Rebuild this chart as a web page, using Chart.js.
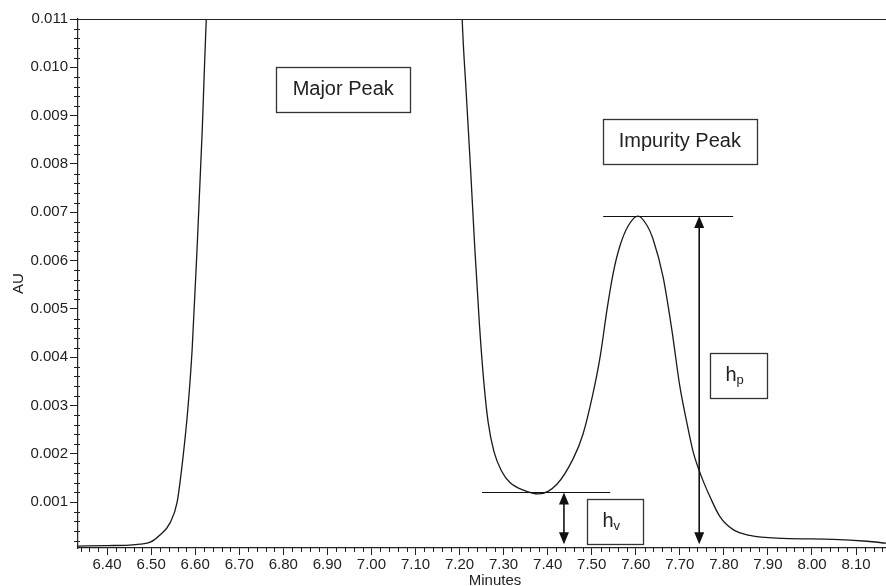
<!DOCTYPE html>
<html>
<head>
<meta charset="utf-8">
<script src="https://cdn.jsdelivr.net/npm/chart.js@4.4.1/dist/chart.umd.min.js"></script>
<style>
html,body{margin:0;padding:0;background:#fff;overflow:hidden;width:886px;height:586px}
#wrap{width:912px;height:586px;position:relative}
</style>
</head>
<body>
<div id="wrap"><canvas id="c"></canvas></div>
<script>
// ---- data ----
const timeMinutes = [
  6.334, 6.40, 6.45, 6.475, 6.498, 6.520, 6.543, 6.559, 6.572, 6.584, 6.593, 6.604, 6.616, 6.621, 6.626,
  6.645, 6.92, 7.19,
  7.206, 7.215, 7.225, 7.235, 7.245, 7.255, 7.265, 7.278, 7.295, 7.315, 7.345, 7.380, 7.421, 7.458,
  7.480, 7.503, 7.519, 7.535, 7.549, 7.564, 7.583, 7.605, 7.626, 7.639, 7.662, 7.682, 7.700, 7.716,
  7.730, 7.746, 7.769, 7.791, 7.821, 7.859, 7.934, 8.048, 8.125, 8.168
];
const absorbanceAU = [
  0.00009, 0.00010, 0.00011, 0.00013, 0.00017, 0.00032, 0.00057, 0.00100, 0.00190, 0.00300, 0.00415, 0.00620, 0.00870, 0.01000, 0.01120,
  0.01600, 0.05000, 0.01600,
  0.01100, 0.00950, 0.00790, 0.00620, 0.00470, 0.00350, 0.00265, 0.00205, 0.00165, 0.00140, 0.00125, 0.00117, 0.00137, 0.00190,
  0.00240, 0.00325, 0.00400, 0.00500, 0.00575, 0.00630, 0.00672, 0.00692, 0.00672, 0.00645, 0.00566, 0.00456, 0.00340, 0.00264,
  0.00205, 0.00160, 0.00110, 0.00070, 0.00043, 0.00031, 0.00025, 0.00023, 0.00019, 0.00015
];
const xTickLabels = ['6.40','6.50','6.60','6.70','6.80','6.90','7.00','7.10','7.20','7.30','7.40','7.50','7.60','7.70','7.80','7.90','8.00','8.10'];
const yTickLabels = ['0.001','0.002','0.003','0.004','0.005','0.006','0.007','0.008','0.009','0.010','0.011'];
const boxLabels = ['Major Peak', 'Impurity Peak'];
const heightLabels = [['h','p'], ['h','v']];

const FONT = '"Liberation Sans", Arial, Helvetica, sans-serif';
const INK = '#222';
Chart.defaults.font.family = FONT;
Chart.defaults.font.size = 15;
Chart.defaults.color = INK;

function drawArrowHead(ctx, x, y, dir) {
  ctx.beginPath();
  ctx.moveTo(x, y);
  ctx.lineTo(x - 5, y + dir * 12);
  ctx.lineTo(x + 5, y + dir * 12);
  ctx.closePath();
  ctx.fill();
}

const annotPlugin = {
  id: 'annot',
  afterDraw(chart) {
    const ctx = chart.ctx;
    const xs = chart.scales.x, ys = chart.scales.y;
    const ca = chart.chartArea;
    const px = v => xs.getPixelForValue(v);
    const py = v => ys.getPixelForValue(v);
    ctx.save();
    // top frame line
    ctx.strokeStyle = INK;
    ctx.lineWidth = 1.2;
    ctx.beginPath();
    ctx.moveTo(ca.left, ca.top + 0.5);
    ctx.lineTo(ca.right, ca.top + 0.5);
    ctx.stroke();
    // minor ticks
    ctx.lineWidth = 1;
    ctx.beginPath();
    for (let i = 1; i <= 55; i++) {
      if (i % 5 === 0) continue;
      const y = Math.round(py(i * 0.0002)) + 0.5;
      if (y < ca.top || y > ca.bottom) continue;
      ctx.moveTo(ca.left - 4, y);
      ctx.lineTo(ca.left + 2, y);
    }
    for (let i = 317; i <= 412; i++) {
      if (i % 5 === 0) continue;
      const x = Math.round(px(i * 0.02)) + 0.5;
      if (x < ca.left || x > ca.right) continue;
      ctx.moveTo(x, ca.bottom);
      ctx.lineTo(x, ca.bottom + 4);
    }
    ctx.stroke();

    // reference lines
    ctx.strokeStyle = '#111';
    ctx.lineWidth = 1;
    ctx.beginPath();
    let y = Math.round(py(0.0012)) + 0.5;
    ctx.moveTo(px(7.251), y); ctx.lineTo(px(7.542), y);
    y = Math.round(py(0.00692)) + 0.5;
    ctx.moveTo(px(7.526), y); ctx.lineTo(px(7.821), y);
    ctx.stroke();

    // double arrows
    ctx.fillStyle = '#111';
    ctx.lineWidth = 1.6;
    [[7.437, 0.0012, 0.00013], [7.744, 0.00692, 0.00013]].forEach(([xv, top, bot]) => {
      const x = px(xv), y1 = py(top), y2 = py(bot);
      ctx.beginPath();
      ctx.moveTo(x, y1 + 6); ctx.lineTo(x, y2 - 6);
      ctx.stroke();
      drawArrowHead(ctx, x, y1, 1);
      drawArrowHead(ctx, x, y2, -1);
    });

    // boxes
    ctx.strokeStyle = '#333';
    ctx.lineWidth = 1.3;
    ctx.fillStyle = INK;
    ctx.textBaseline = 'alphabetic';
    const boxes = [
      {x: 6.936, y: 0.009545, w: 134, h: 45, text: boxLabels[0]},
      {x: 7.700, y: 0.008464, w: 154, h: 45, text: boxLabels[1]},
      {x: 7.833, y: 0.00362, w: 57, h: 45, sub: heightLabels[0]},
      {x: 7.553, y: 0.000596, w: 56, h: 45, sub: heightLabels[1]}
    ];
    boxes.forEach(b => {
      const cx = px(b.x), cy = py(b.y);
      const l = Math.round(cx - b.w / 2) + 0.5, t = Math.round(cy - b.h / 2) + 0.5;
      ctx.strokeRect(l, t, b.w, b.h);
      if (b.text) {
        ctx.font = '20px ' + FONT;
        ctx.textAlign = 'center';
        ctx.fillText(b.text, cx, t + 27);
      } else {
        ctx.textAlign = 'left';
        ctx.font = '20px ' + FONT;
        const hx = l + 15;
        ctx.fillText(b.sub[0], hx, t + 27);
        const hw = ctx.measureText(b.sub[0]).width;
        ctx.font = '13px ' + FONT;
        ctx.fillText(b.sub[1], hx + hw, t + 30);
      }
    });
    ctx.restore();
  }
};

new Chart(document.getElementById('c'), {
  type: 'line',
  data: {
    datasets: [{
      data: timeMinutes.map((t, i) => ({x: t, y: absorbanceAU[i]})),
      borderColor: '#1a1a1a',
      borderWidth: 1.3,
      pointRadius: 0,
      fill: false,
      cubicInterpolationMode: 'monotone'
    }]
  },
  options: {
    responsive: true,
    maintainAspectRatio: false,
    devicePixelRatio: 1,
    animation: false,
    events: [],
    layout: {padding: {top: 19, right: 0, bottom: 0, left: 0}},
    plugins: {legend: {display: false}, tooltip: {enabled: false}},
    scales: {
      x: {
        type: 'linear',
        min: 6.334,
        max: 8.227,
        afterBuildTicks: s => { s.ticks = xTickLabels.map(l => ({value: parseFloat(l)})); },
        afterFit: s => { s.height = 38; },
        ticks: {
          autoSkip: false, maxRotation: 0, minRotation: 0, padding: 1,
          callback: v => xTickLabels.find(l => Math.abs(parseFloat(l) - v) < 1e-9) || ''
        },
        grid: {display: true, drawOnChartArea: false, drawTicks: true, tickLength: 7, tickColor: INK, tickWidth: 1},
        border: {display: true, color: INK, width: 1.2},
        title: {display: true, text: 'Minutes', font: {size: 15}, padding: {top: 0, bottom: -4}}
      },
      y: {
        type: 'linear',
        min: 0.00005,
        max: 0.011,
        afterBuildTicks: s => { s.ticks = yTickLabels.map(l => ({value: parseFloat(l)})); },
        afterFit: s => { s.width = 78; },
        ticks: {
          padding: 2,
          callback: v => yTickLabels.find(l => Math.abs(parseFloat(l) - v) < 1e-12) || ''
        },
        grid: {display: true, drawOnChartArea: false, drawTicks: true, tickLength: 8, tickColor: INK, tickWidth: 1},
        border: {display: true, color: INK, width: 1.2},
        title: {display: true, text: 'AU', font: {size: 15}, padding: {top: 10, bottom: 0}}
      }
    }
  },
  plugins: [annotPlugin]
});
</script>
</body>
</html>
